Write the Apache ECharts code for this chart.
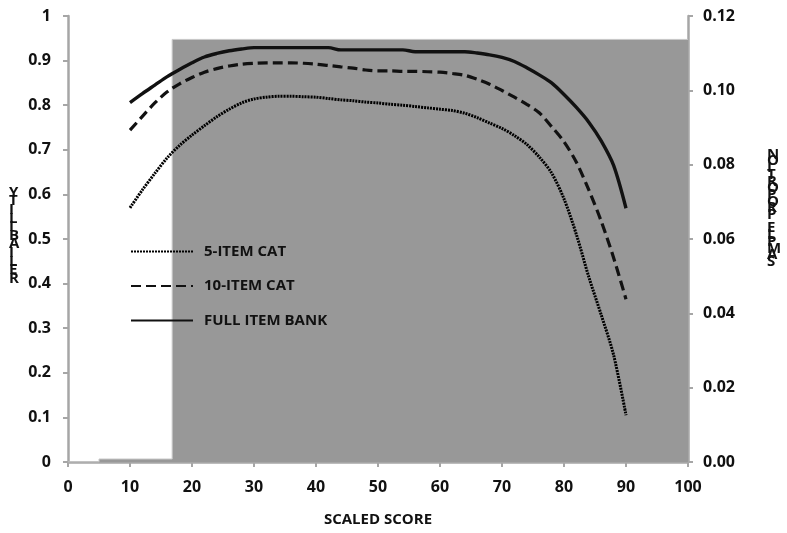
<!DOCTYPE html>
<html lang="en">
<head>
    <meta charset="utf-8">
    <title>Reliability by Scaled Score</title>
    <script src="https://cdn.jsdelivr.net/npm/echarts@6.0.0/dist/echarts.min.js"></script>
    <style>
        html, body { margin: 0; padding: 0; background: #fff; }
        #chart { width: 787px; height: 533px; }
    </style>
</head>
<body>
    <div id="chart"></div>
    <script>
        // Scaled score points where reliability was read
        const scores = [10, 12, 14, 16, 18, 20, 22, 24, 26, 28, 30, 32, 34, 36, 38, 40, 42, 44, 46, 48, 50,
                        52, 54, 56, 58, 60, 62, 64, 66, 68, 70, 72, 74, 76, 78, 80, 82, 84, 86, 88, 90];

        const cat5 = [0.570, 0.610, 0.647, 0.682, 0.710, 0.733, 0.754, 0.774, 0.791, 0.805, 0.814, 0.818, 0.820, 0.820,
                      0.819, 0.818, 0.815, 0.812, 0.810, 0.807, 0.805, 0.802, 0.800, 0.797, 0.794, 0.791, 0.788, 0.782,
                      0.772, 0.760, 0.748, 0.732, 0.712, 0.684, 0.648, 0.590, 0.510, 0.415, 0.330, 0.240, 0.105];

        const cat10 = [0.744, 0.775, 0.805, 0.830, 0.848, 0.862, 0.874, 0.882, 0.888, 0.892, 0.894, 0.895, 0.895, 0.895,
                       0.894, 0.892, 0.889, 0.886, 0.883, 0.879, 0.877, 0.877, 0.876, 0.876, 0.875, 0.874, 0.871, 0.867,
                       0.858, 0.847, 0.833, 0.818, 0.802, 0.783, 0.752, 0.718, 0.672, 0.610, 0.540, 0.458, 0.365];

        const fullBank = [0.806, 0.826, 0.845, 0.864, 0.880, 0.895, 0.908, 0.916, 0.922, 0.926, 0.929, 0.929, 0.929, 0.929,
                          0.929, 0.929, 0.929, 0.924, 0.924, 0.924, 0.924, 0.924, 0.924, 0.920, 0.920, 0.920, 0.920, 0.920,
                          0.917, 0.913, 0.907, 0.898, 0.884, 0.868, 0.850, 0.824, 0.795, 0.762, 0.720, 0.665, 0.569];

        // Sample proportion (right axis), gray area
        const propScores = [0, 5, 5, 16.8, 16.8, 100];
        const propValues = [0, 0, 0.0008, 0.0008, 0.1137, 0.1137];

        const seriesNames = ['5-ITEM CAT', '10-ITEM CAT', 'FULL ITEM BANK'];
        const xName = 'SCALED SCORE';
        const leftName = 'RELIABILITY';
        const rightName = 'SAMPLE PROPORTION';

        const pairs = (xs, ys) => xs.map((x, i) => [x, ys[i]]);
        // letters stacked and reversed, the way the original axis titles appear
        const stacked = s => s.split('').reverse().join('\n');

        const font = '"Open Sans", "Liberation Sans", sans-serif';
        const axisGray = '#a6a6a6';
        const labelStyle = { color: '#111', fontSize: 16, fontWeight: 'bold', fontFamily: font };

        const chart = echarts.init(document.getElementById('chart'));

        chart.setOption({
            animation: false,
            grid: { left: 68, right: 99, top: 16, bottom: 71 },
            legend: {
                orient: 'vertical',
                left: 125,
                top: 239,
                itemWidth: 62,
                itemHeight: 14,
                itemGap: 19.5,
                data: seriesNames,
                itemStyle: { opacity: 0 },
                textStyle: { color: '#111', fontSize: 15, fontWeight: 'bold', fontFamily: font, padding: [0, 0, 0, 6] }
            },
            xAxis: {
                type: 'value',
                min: 0,
                max: 100,
                interval: 10,
                name: xName,
                nameLocation: 'middle',
                nameGap: 50,
                nameTextStyle: { color: '#111', fontSize: 15, fontWeight: 'bold', fontFamily: font },
                axisLine: { lineStyle: { color: axisGray, width: 2.5 } },
                axisTick: { show: true, length: 5, lineStyle: { color: axisGray, width: 2 } },
                axisLabel: Object.assign({ margin: 17 }, labelStyle),
                splitLine: { show: false }
            },
            yAxis: [
                {
                    type: 'value',
                    min: 0,
                    max: 1,
                    interval: 0.1,
                    axisLine: { show: true, lineStyle: { color: axisGray, width: 2.5 } },
                    axisTick: { show: true, length: 5, lineStyle: { color: axisGray, width: 2 } },
                    axisLabel: Object.assign({ margin: 17 }, labelStyle),
                    splitLine: { show: false }
                },
                {
                    type: 'value',
                    position: 'right',
                    min: 0,
                    max: 0.12,
                    interval: 0.02,
                    axisLine: { show: true, lineStyle: { color: axisGray, width: 2.5 } },
                    axisTick: { show: true, length: 5, lineStyle: { color: axisGray, width: 2 } },
                    axisLabel: Object.assign({ margin: 15, formatter: v => v.toFixed(2) }, labelStyle),
                    splitLine: { show: false }
                }
            ],
            graphic: [
                {
                    type: 'text',
                    left: 9,
                    top: 185,
                    style: {
                        text: stacked(leftName),
                        fill: '#111',
                        font: 'bold 15px ' + font,
                        lineHeight: 8.6
                    }
                },
                {
                    type: 'text',
                    left: 767,
                    top: 147,
                    style: {
                        text: stacked(rightName),
                        fill: '#111',
                        font: 'bold 15px ' + font,
                        lineHeight: 6.7
                    }
                }
            ],
            series: [
                {
                    name: 'SAMPLE PROPORTION',
                    type: 'line',
                    yAxisIndex: 1,
                    data: pairs(propScores, propValues),
                    symbol: 'none',
                    lineStyle: { width: 1, color: '#c8c8c8' },
                    areaStyle: { color: '#989898', opacity: 1 },
                    z: 1
                },
                {
                    name: seriesNames[0],
                    type: 'line',
                    data: pairs(scores, cat5),
                    symbol: 'none',
                    smooth: 0.3,
                    itemStyle: { color: '#000' },
                    lineStyle: { color: '#000', width: 3, type: [2, 1] },
                    z: 3
                },
                {
                    name: seriesNames[1],
                    type: 'line',
                    data: pairs(scores, cat10),
                    symbol: 'none',
                    smooth: 0.3,
                    itemStyle: { color: '#111' },
                    lineStyle: { color: '#111', width: 3.2, type: [10, 5] },
                    z: 3
                },
                {
                    name: seriesNames[2],
                    type: 'line',
                    data: pairs(scores, fullBank),
                    symbol: 'none',
                    smooth: 0.3,
                    itemStyle: { color: '#111' },
                    lineStyle: { color: '#111', width: 3.4 },
                    z: 3
                }
            ]
        });

        window.addEventListener('resize', function() {
            chart.resize();
        });
    </script>
</body>
</html>
